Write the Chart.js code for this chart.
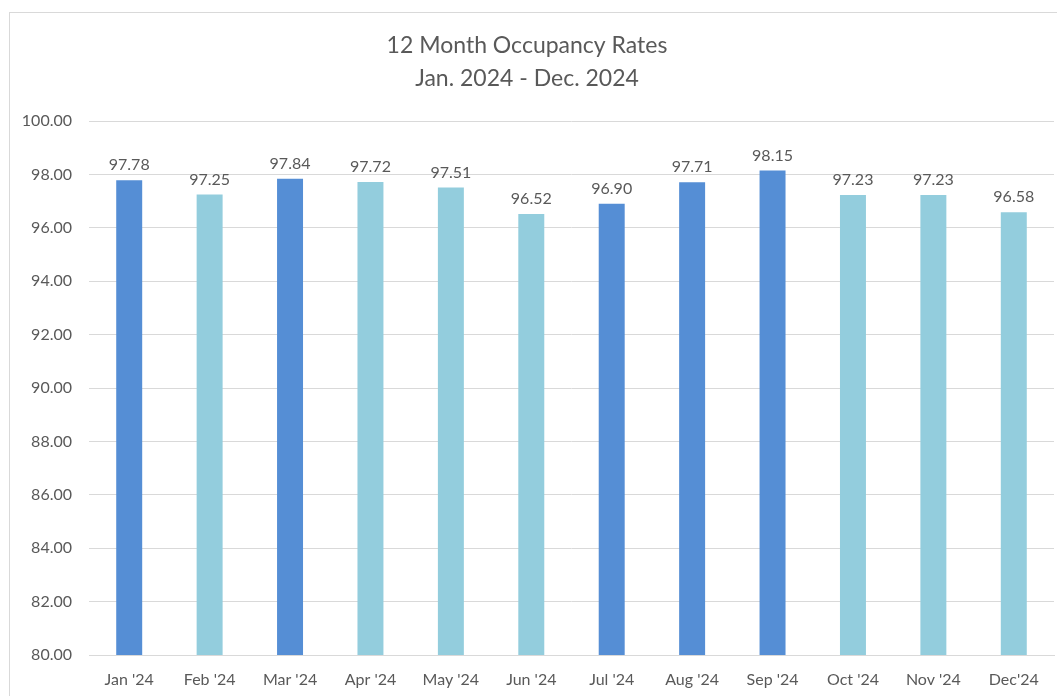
<!DOCTYPE html>
<html>
<head>
<meta charset="utf-8">
<script src="https://cdn.jsdelivr.net/npm/chart.js@4"></script>
<style>
  html, body { margin: 0; padding: 0; background: #fff; overflow: hidden; }
  #wrap { position: relative; width: 1057px; height: 696px; }
  #frame { position: absolute; left: 9px; top: 12px; width: 1100px; height: 800px;
           border: 1px solid #d9d9d9; box-sizing: border-box; pointer-events: none; }
  canvas { position: absolute; left: 0; top: 0; }
</style>
</head>
<body>
<div id="wrap">
  <canvas id="myChart" width="1057" height="696"></canvas>
  <div id="frame"></div>
</div>
<script>
// data
var months = ["Jan '24", "Feb '24", "Mar '24", "Apr '24", "May '24", "Jun '24",
              "Jul '24", "Aug '24", "Sep '24", "Oct '24", "Nov '24", "Dec'24"];
var occupancy = [97.78, 97.25, 97.84, 97.72, 97.51, 96.52, 96.90, 97.71, 98.15, 97.23, 97.23, 96.58];
var titleLines = ["12 Month Occupancy Rates", "Jan. 2024 - Dec. 2024"];

// styling
var dark = '#558ed5';
var light = '#93cddd';
var barColors = [dark, light, dark, light, light, light, dark, dark, dark, light, light, light];
var textGray = '#595959';
var fontFamily = 'Lato, "Open Sans", sans-serif';

// draw the value above each bar
const valueLabels = {
    id: 'valueLabels',
    afterDatasetsDraw: function(chart){
        var ctx = chart.ctx;
        var meta = chart.getDatasetMeta(0);
        ctx.save();
        ctx.font = '16px ' + fontFamily;
        ctx.fillStyle = textGray;
        ctx.textAlign = 'center';
        ctx.textBaseline = 'bottom';
        meta.data.forEach(function(bar, i){
            ctx.fillText(occupancy[i].toFixed(2), bar.x, bar.y - 7);
        });
        ctx.restore();
    }
};

const ctx = document.getElementById('myChart');
var myChart = new Chart(ctx, {
    type: 'bar',
    data: {
        labels: months,
        datasets: [{
            data: occupancy,
            backgroundColor: barColors,
            barPercentage: 0.323,
            categoryPercentage: 1.0
        }]
    },
    options: {
        responsive: false,
        animation: false,
        layout: { padding: { left: 0, right: 3, bottom: 0 } },
        plugins: {
            legend: { display: false },
            tooltip: { enabled: false },
            title: {
                display: true,
                text: titleLines,
                color: textGray,
                font: { family: fontFamily, size: 23, weight: 'normal', lineHeight: 1.435 },
                padding: { top: 29, bottom: 26 }
            }
        },
        scales: {
            x: {
                afterFit: function(scale){ scale.height = 41; },
                grid: { display: false, drawTicks: false },
                border: { color: '#d9d9d9', width: 1 },
                ticks: { color: textGray, font: { family: fontFamily, size: 16 }, padding: 15, maxRotation: 0 }
            },
            y: {
                min: 80,
                max: 100,
                afterFit: function(scale){ scale.width = 89; },
                grid: { color: '#d9d9d9', drawTicks: false },
                border: { display: false },
                ticks: {
                    stepSize: 2,
                    color: textGray,
                    font: { family: fontFamily, size: 16 },
                    padding: 17,
                    callback: function(value){ return value.toFixed(2); }
                }
            }
        }
    },
    plugins: [valueLabels]
});
</script>
</body>
</html>
